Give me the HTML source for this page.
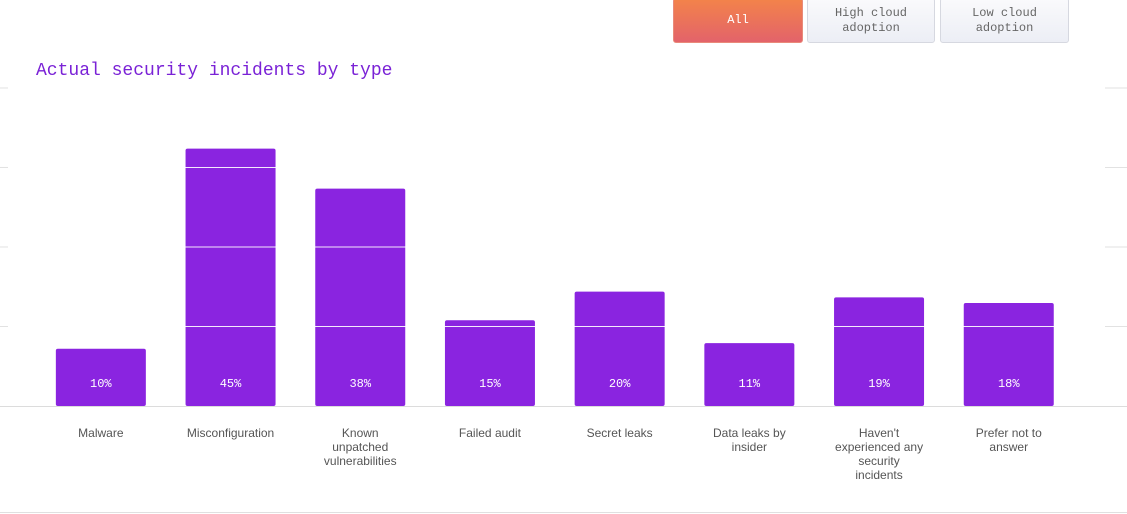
<!DOCTYPE html>
<html><head><meta charset="utf-8"><style>
body{margin:0;width:1127px;height:514px;background:#fff;overflow:hidden;position:relative;font-family:"Liberation Sans",sans-serif}
.btn{position:absolute;top:-2px;height:45px;border:1px solid #d6d8e0;border-radius:3px;font:12px/15px "Liberation Mono",monospace;color:#666;text-align:center;display:flex;align-items:center;justify-content:center;background:linear-gradient(#fafafc,#eceef5);box-sizing:border-box}
.title{position:absolute;left:36px;top:61px;font:18px "Liberation Mono",monospace;color:#7a22d6}
</style></head><body>
<div class="btn" style="left:673px;width:130px;background:linear-gradient(#f3834a,#e3636a);color:#fff;border-color:#e98a7a">All</div>
<div class="btn" style="left:807px;width:128px">High cloud<br>adoption</div>
<div class="btn" style="left:940px;width:129px">Low cloud<br>adoption</div>
<div class="title">Actual security incidents by type</div>
<svg id="chart" width="1127" height="514" style="position:absolute;left:0;top:0"></svg>
<script>
const categories=["Malware","Misconfiguration","Known unpatched vulnerabilities","Failed audit","Secret leaks","Data leaks by insider","Haven't experienced any security incidents","Prefer not to answer"];
const labelLines=[["Malware"],["Misconfiguration"],["Known","unpatched","vulnerabilities"],["Failed audit"],["Secret leaks"],["Data leaks by","insider"],["Haven't","experienced any","security","incidents"],["Prefer not to","answer"]];
const values=[10,45,38,15,20,11,19,18];
const valueLabels=["10%","45%","38%","15%","20%","11%","19%","18%"];
const gridValues=[13.9,27.8,41.7,55.6];
const NS="http://www.w3.org/2000/svg";
const svg=document.getElementById('chart');
const base=406,pxPer=5.72,x0=36,step=129.7,bw=90;
const y=v=>base-v*pxPer;
const xc=i=>x0+step*(i+0.5);
function mk(t,a){const e=document.createElementNS(NS,t);for(const k in a)e.setAttribute(k,a[k]);svg.appendChild(e);return e;}
// gridline stubs
gridValues.forEach(g=>{
 const l=mk('line',{x1:0,x2:8,y1:y(g),y2:y(g),stroke:'#e2e2e2'});
 
 
 const r=mk('line',{x1:1105,x2:1127,y1:y(g),y2:y(g),stroke:'#e2e2e2'});
 
 
});
values.forEach((v,i)=>{
 const b=mk('rect',{x:xc(i)-bw/2,y:y(v),width:bw,height:v*pxPer,fill:'#8a24e0',rx:2});
 
 
 const t=mk('text',{x:xc(i),y:387,'text-anchor':'middle',fill:'#fff','font-size':12,'font-family':'Liberation Mono, monospace'});
 t.textContent=valueLabels[i];
 
 
 const lt=mk('text',{x:xc(i),y:437,'text-anchor':'middle',fill:'#555','font-size':12});
 
 
 labelLines[i].forEach((s,j)=>{const ts=document.createElementNS(NS,'tspan');ts.setAttribute('x',xc(i));ts.setAttribute('dy',j?14:0);ts.textContent=s;lt.appendChild(ts);});
});
gridValues.forEach(g=>{
 const l=mk('line',{x1:36,x2:1073,y1:y(g),y2:y(g),stroke:'#fff','stroke-opacity':0.9});
 
 
});
const ax=mk('line',{x1:0,x2:1127,y1:base+0.5,y2:base+0.5,stroke:'#dcdcdc'});


const bl=mk('line',{x1:0,x2:1127,y1:512.5,y2:512.5,stroke:'#e0e0e0'});


</script>
</body></html>
